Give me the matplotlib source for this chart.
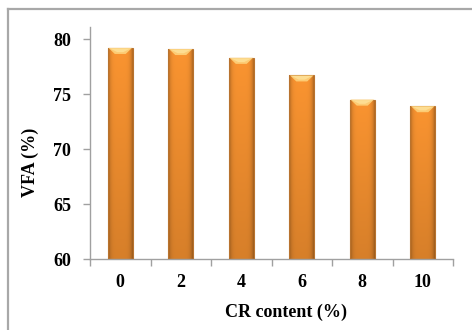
import numpy as np
import matplotlib
matplotlib.use("Agg")
import matplotlib.pyplot as plt
from matplotlib.patches import Polygon, Rectangle
from matplotlib.lines import Line2D

categories = ["0", "2", "4", "6", "8", "10"]
vfa = [79.2, 79.1, 78.3, 76.7, 74.5, 73.9]

plt.rcParams["font.family"] = ["Liberation Serif", "DejaVu Serif"]
plt.rcParams["font.weight"] = "bold"
FS = 13

W, H = 472, 330
fig = plt.figure(figsize=(W / 100, H / 100), dpi=100)
fig.patch.set_facecolor("white")

# outer chart frame (top and left edges visible)
fig.add_artist(Line2D([8 / W, 8 / W], [0, 1 - 9 / H], transform=fig.transFigure,
                      color="#a8a8a8", lw=1.6))
fig.add_artist(Line2D([8 / W, 1], [1 - 9 / H, 1 - 9 / H], transform=fig.transFigure,
                      color="#a8a8a8", lw=1.6))

ax = fig.add_axes([90 / W, 71 / H, (453 - 90) / W, (259 - 27) / H])
ax.set_xlim(-0.5, len(categories) - 0.5)
ax.set_ylim(60, 81.1)

bar_w = 0.41
x = np.arange(len(categories))
bars = ax.bar(x, [v - 60 for v in vfa], bottom=60, width=bar_w,
              color="none", edgecolor="none", zorder=2)

# shaded cylinder-like fill for each bar
nx, ny = 64, 64
u = np.linspace(-1, 1, nx)
hshade = 1.0 - 0.30 * np.abs(u) ** 5
vshade = np.linspace(0.86, 1.0, ny)[:, None]
base = np.array([0.98, 0.58, 0.19])
img = np.clip(base[None, None, :] * (hshade[None, :, None] * vshade[:, :, None]), 0, 1)
img = img.copy()

for rect in bars:
    x0 = rect.get_x()
    w = rect.get_width()
    x1 = x0 + w
    y0 = rect.get_y()
    y1 = y0 + rect.get_height()
    im = ax.imshow(img, extent=[x0, x1, y0, y1], origin="lower", aspect="auto",
                   interpolation="bilinear", zorder=2)
    clip = Rectangle((x0, y0), w, y1 - y0, transform=ax.transData)
    im.set_clip_path(clip)
    ax.add_patch(Rectangle((x0, y0), w, y1 - y0, fill=False,
                           edgecolor="#b8732f", lw=0.8, zorder=3))
    xc = (x0 + x1) / 2
    bevel = 0.55
    # bevelled top face
    ax.add_patch(Polygon([(x0 + 0.01, y1), (x1 - 0.01, y1),
                          (xc + 0.22 * w, y1 - bevel), (xc - 0.22 * w, y1 - bevel)],
                         closed=True, facecolor="#fdcf78", edgecolor="none",
                         alpha=0.95, zorder=3))
    ax.add_patch(Polygon([(x0 + 0.08 * w, y1 - 0.05), (x1 - 0.08 * w, y1 - 0.05),
                          (xc + 0.12 * w, y1 - bevel * 0.7), (xc - 0.12 * w, y1 - bevel * 0.7)],
                         closed=True, facecolor="#fee29a", edgecolor="none",
                         alpha=0.8, zorder=3))

for s in ["top", "right"]:
    ax.spines[s].set_visible(False)
for s in ["left", "bottom"]:
    ax.spines[s].set_color("#a0a0a0")
    ax.spines[s].set_linewidth(1.0)

ax.set_yticks([60, 65, 70, 75, 80])
ax.set_xticks(x)
ax.set_xticklabels(categories)
ax.set_xticks(np.arange(-0.5, len(categories)), minor=True)
ax.tick_params(axis="x", which="major", length=0, pad=11, labelsize=FS)
ax.tick_params(axis="x", which="minor", length=5, color="#a0a0a0", width=1.0)
ax.tick_params(axis="y", length=5, color="#a0a0a0", width=1.0, pad=8.5, labelsize=FS)
for lab in ax.get_xticklabels() + ax.get_yticklabels():
    lab.set_fontweight("bold")

ax.set_xlabel("CR content (%)", fontsize=FS, fontweight="bold")
ax.xaxis.set_label_coords((286 - 90) / (453 - 90), (259 - 312) / (259 - 27))
ax.xaxis.label.set_va("center")
ax.set_ylabel("VFA (%)", fontsize=FS, fontweight="bold")
ax.yaxis.set_label_coords((30 - 90) / (453 - 90), (259 - 162) / (259 - 27))
ax.yaxis.label.set_va("center")

fig.savefig("out.png", dpi=100, facecolor="white")
